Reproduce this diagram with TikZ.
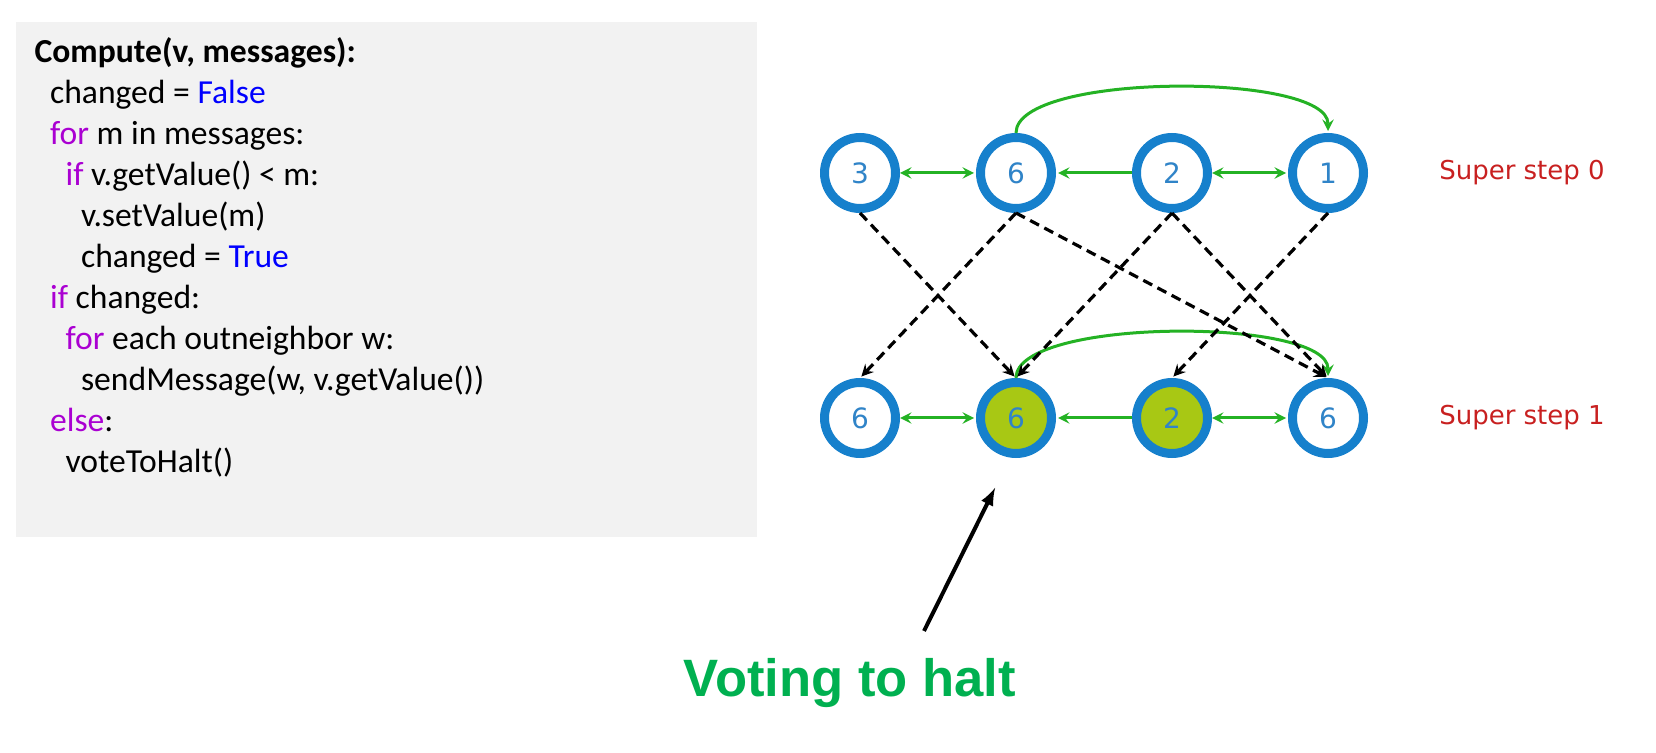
\documentclass[tikz,border=0pt]{standalone}
\usepackage{fontspec}
\usepackage{tikz}
\usetikzlibrary{automata, positioning}

\newfontfamily\codefont{Carlito}
\newfontfamily\labelfont{DejaVu Sans}
\newfontfamily\calloutfont{Liberation Sans}

\definecolor{ringblue}{RGB}{22,128,204}
\definecolor{numblue}{RGB}{48,132,200}
\definecolor{edgegreen}{RGB}{36,178,36}
\definecolor{haltgreen}{RGB}{168,200,20}
\definecolor{stepred}{RGB}{200,32,32}
\definecolor{kwpurple}{RGB}{170,0,210}
\definecolor{kwblue}{RGB}{0,0,255}
\definecolor{votegreen}{RGB}{0,176,80}
\definecolor{codegray}{RGB}{242,242,242}

\newcommand{\kw}[1]{\textcolor{kwpurple}{#1}}
\newcommand{\lit}[1]{\textcolor{kwblue}{#1}}

\begin{document}
\begin{tikzpicture}[
            x = 0.5pt, y = -0.5pt, % one unit per pixel
            > = stealth, % arrow head style
            shorten > = 1pt, % don't touch arrow head to node
            node distance = 78pt, % distance between vertex centres
            semithick % line style
        ]

        \tikzstyle{every state}=[
            draw = ringblue,
            line width = 4.5pt,
            fill = white,
            text = numblue,
            inner sep = 0pt,
            minimum size = 35.5pt,
            font = \labelfont\fontsize{14}{16}\selectfont
        ]
        \tikzstyle{halted}=[fill = haltgreen]
        \tikzstyle{link}=[edgegreen, line width = 1.5pt]
        \tikzstyle{msg}=[->, black, line width = 1.6pt, dash pattern = on 5pt off 3pt]
        \tikzstyle{steplabel}=[text = stepred, font = \labelfont\fontsize{13}{15}\selectfont]
        \tikzstyle{codeline}=[anchor = base west, inner sep = 0pt, font = \codefont\fontsize{16.8}{20}\selectfont]

        \useasboundingbox (0,0) rectangle (1656,753);

        % pseudo code
        \fill[codegray] (16,22) rectangle (757,537);
        \foreach \ind/\txt [count=\i from 0] in {
                0/{\textbf{Compute(v, messages):}},
                1/{changed = \lit{False}},
                1/{\kw{for} m in messages:},
                2/{\kw{if} v.getValue() < m:},
                3/{v.setValue(m)},
                3/{changed = \lit{True}},
                1/{\kw{if} changed:},
                2/{\kw{for} each outneighbor w:},
                3/{sendMessage(w, v.getValue())},
                1/{\kw{else}:},
                2/{voteToHalt()}}
            \node[codeline] (code\i) at ({34+15.5*\ind}, {63+41*\i}) {\txt};

        % super step 0
        \node[state] (a0) at (860,173) {3};
        \node[state] (b0) [right of=a0] {6};
        \node[state] (c0) [right of=b0] {2};
        \node[state] (d0) [right of=c0] {1};

        % super step 1
        \node[state] (a1) at (860,418) {6};
        \node[state, halted] (b1) [right of=a1] {6};
        \node[state, halted] (c1) [right of=b1] {2};
        \node[state] (d1) [right of=c1] {6};

        \node[steplabel] (s0) [right=32pt of d0] {Super step 0};
        \node[steplabel] (s1) [right=32pt of d1] {Super step 1};

        % edges of the graph
        \foreach \r in {0,1} {
            \path[link, <->] (a\r) edge (b\r);
            \path[link, ->] (c\r) edge (b\r);
            \path[link, <->] (c\r) edge (d\r);
            \draw[link, ->] (b\r.north) to[out=90, in=90, looseness=0.5] (d\r.north);
        }

        % messages sent between super steps
        \foreach \from/\to in {a0/b1, b0/a1, b0/d1, c0/b1, c0/d1, d0/c1}
            \draw[msg] (\from.south) -- (\to.north);

        % callout
        \node[text = votegreen, anchor = base, inner sep = 0pt,
              font = \calloutfont\bfseries\fontsize{26.3}{30}\selectfont] (vote) at (850,697) {Voting to halt};
        \coordinate (tail) at (924,631);
        \coordinate (pointer) at (996,486);
        \draw[->, >=latex, line width = 2pt] (tail) -- (pointer);

  \end{tikzpicture}
\end{document}
